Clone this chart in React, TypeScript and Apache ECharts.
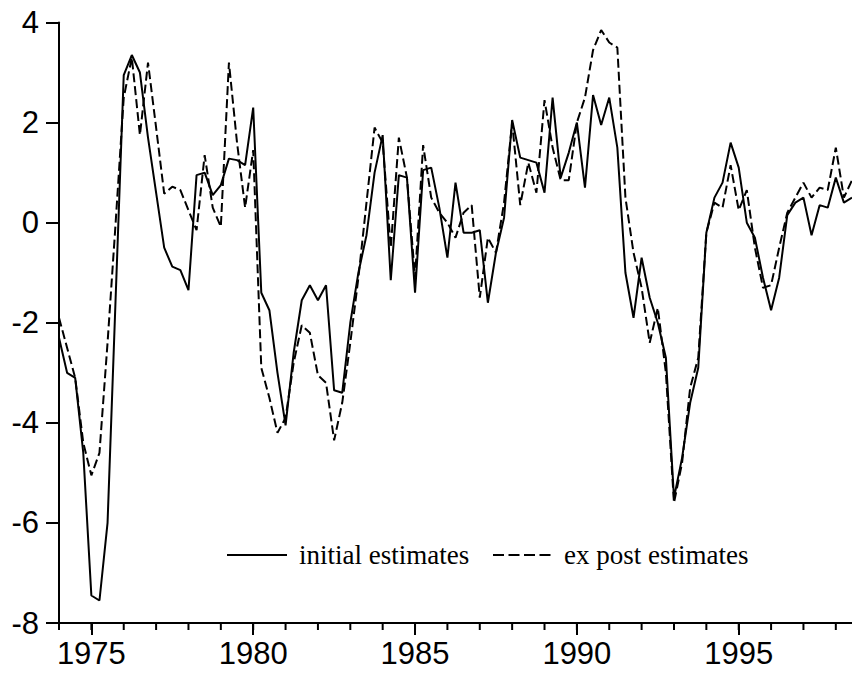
import React, { useEffect, useRef } from "react";
import * as echarts from "echarts";

const startYear = 1974;
const initialEstimates: number[] = [
  -2.3, -3.0, -3.1, -4.6,
  -7.45, -7.55, -6.0, -1.5,
  2.95, 3.35, 3.0, 1.7,
  0.6, -0.5, -0.88, -0.95,
  -1.35, 0.95, 1.0, 0.55,
  0.75, 1.28, 1.25, 1.15,
  2.3, -1.4, -1.75, -3.0,
  -4.05, -2.6, -1.55, -1.25,
  -1.55, -1.25, -3.35, -3.4,
  -2.0, -1.0, -0.25, 1.0,
  1.75, -1.15, 0.95, 0.9,
  -1.4, 1.05, 1.1, 0.3,
  -0.7, 0.8, -0.2, -0.2,
  -0.15, -1.6, -0.6, 0.1,
  2.05, 1.3, 1.25, 1.2,
  0.6, 2.5, 0.9, 1.4,
  2.0, 0.7, 2.55, 1.95,
  2.5, 1.5, -1.0, -1.9,
  -0.7, -1.5, -2.0, -2.7,
  -5.5, -4.7, -3.6, -2.9,
  -0.2, 0.5, 0.8, 1.6,
  1.1, 0.0, -0.3, -1.1,
  -1.75, -1.1, 0.15, 0.4,
  0.5, -0.25, 0.35, 0.3,
  0.9, 0.4, 0.5,
];
const expostEstimates: number[] = [
  -1.9, -2.5, -3.1, -4.4,
  -5.05, -4.6, -2.4, 0.0,
  2.5, 3.3, 1.75, 3.2,
  1.9, 0.58, 0.72, 0.65,
  0.25, -0.15, 1.35, 0.3,
  -0.08, 3.2, 1.6, 0.3,
  1.45, -2.9, -3.5, -4.2,
  -3.9, -2.8, -2.05, -2.2,
  -3.05, -3.2, -4.35, -3.6,
  -2.4, -1.1, 0.4, 1.9,
  1.6, -0.5, 1.7, 0.9,
  -1.1, 1.55, 0.5, 0.2,
  0.0, -0.3, 0.2, 0.35,
  -1.5, -0.3, -0.6, 0.4,
  2.0, 0.35, 1.2, 0.6,
  2.45, 1.5, 0.85, 0.85,
  2.0, 2.5, 3.45, 3.85,
  3.6, 3.5, 0.5, -0.6,
  -1.3, -2.4, -1.7, -3.0,
  -5.6, -4.8, -3.3, -2.7,
  -0.2, 0.4, 0.3, 1.15,
  0.25, 0.65, -0.5, -1.3,
  -1.25, -0.5, 0.2, 0.5,
  0.8, 0.5, 0.7, 0.65,
  1.5, 0.5, 0.85,
];
const majorYears = [1975, 1980, 1985, 1990, 1995];
const minorYears = [1974, 1975, 1976, 1977, 1978, 1979, 1980, 1981, 1982, 1983, 1984, 1985, 1986, 1987, 1988, 1989, 1990, 1991, 1992, 1993, 1994, 1995, 1996, 1997, 1998];
const legendLabels = ["initial estimates", "ex post estimates"];

const X_MIN = 1974;
const X_MAX = 1998.5;
const Y_MIN = -8;
const Y_MAX = 4;

const toPairs = (vals: number[]) => vals.map((v, i) => [startYear + i / 4, v]);

export default function App() {
  const ref = useRef<HTMLDivElement>(null);
  useEffect(() => {
    if (!ref.current) return;
    const chart = echarts.init(ref.current, null, { renderer: "svg" });
    const black = "#000";
    const serif = "27px 'Liberation Serif', 'Times New Roman', serif";
    const legendGraphics: any[] = [
      { type: "line", shape: { x1: 227, y1: 555, x2: 287, y2: 555 }, style: { stroke: black, lineWidth: 2 } },
      { type: "text", x: 299, y: 555, style: { text: legendLabels[0], font: serif, fill: black, verticalAlign: "middle" } },
      { type: "line", shape: { x1: 493, y1: 555, x2: 551, y2: 555 }, style: { stroke: black, lineWidth: 2, lineDash: [11, 4.5] } },
      { type: "text", x: 564, y: 555, style: { text: legendLabels[1], font: serif, fill: black, verticalAlign: "middle" } },
    ];
    chart.setOption({
      animation: false,
      backgroundColor: "#fff",
      grid: { left: 59, top: 22.5, right: 0, bottom: 54, containLabel: false },
      xAxis: {
        type: "value",
        min: X_MIN,
        max: X_MAX,
        axisLine: { show: true, onZero: false, lineStyle: { color: black, width: 2 } },
        axisTick: { show: true, inside: false, length: 12, customValues: majorYears, lineStyle: { color: black, width: 2 } },
        axisLabel: {
          show: true,
          customValues: majorYears,
          margin: 15,
          color: black,
          fontFamily: "Liberation Sans, Arial, sans-serif",
          fontSize: 31,
          formatter: (v: number) => String(Math.round(v)),
        },
        splitLine: { show: false },
      },
      yAxis: {
        type: "value",
        min: Y_MIN,
        max: Y_MAX,
        interval: 2,
        axisLine: { show: true, onZero: false, lineStyle: { color: black, width: 2 } },
        axisTick: { show: true, inside: false, length: 13, lineStyle: { color: black, width: 2 } },
        axisLabel: {
          margin: 20,
          color: black,
          fontFamily: "Liberation Sans, Arial, sans-serif",
          fontSize: 31,
        },
        splitLine: { show: false },
      },
      series: [
        {
          name: legendLabels[0],
          type: "line",
          data: toPairs(initialEstimates),
          symbol: "none",
          lineStyle: { color: black, width: 2 },
        },
        {
          name: legendLabels[1],
          type: "line",
          data: toPairs(expostEstimates),
          symbol: "none",
          lineStyle: { color: black, width: 2, type: [9, 4] },
        },
      ],
      graphic: legendGraphics,
    });

    // yearly minor ticks, placed through the chart's own x scale
    const ticks: any[] = [];
    try {
      minorYears.forEach((y) => {
        const p = chart.convertToPixel({ xAxisIndex: 0, yAxisIndex: 0 } as any, [y, Y_MIN]) as number[];
        ticks.push({ type: "line", silent: true, shape: { x1: p[0], y1: p[1], x2: p[0], y2: p[1] + 7 }, style: { stroke: black, lineWidth: 2 } });
      });
      chart.setOption({ graphic: [...legendGraphics, ...ticks] });
    } catch (e) {
      // keep chart without minor ticks
    }

    return () => chart.dispose();
  }, []);
  return <div ref={ref} style={{ position: "fixed", left: 0, top: 0, width: 852, height: 677 }} />;
}
